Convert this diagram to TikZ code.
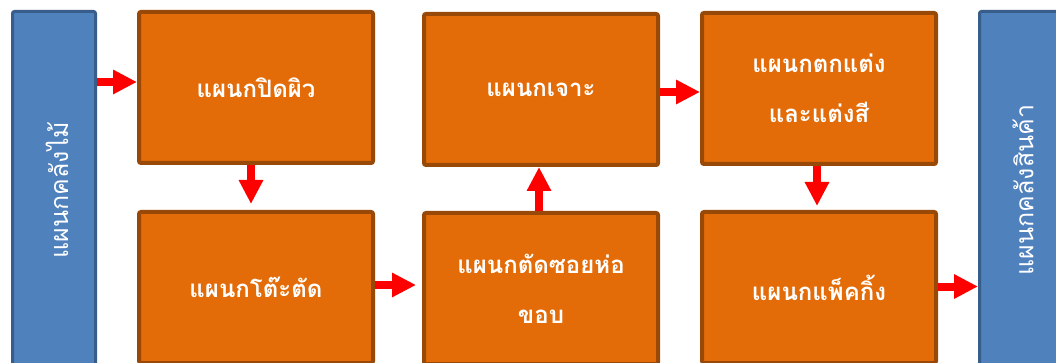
\documentclass[tikz,border=0pt]{standalone}
\usepackage{fontspec}
\newfontfamily\thaifont[Script=Thai]{Loma}
\usetikzlibrary{arrows.meta,calc}
\definecolor{orfill}{HTML}{E36C09}
\definecolor{orline}{HTML}{984807}
\definecolor{blfill}{HTML}{4F81BD}
\definecolor{blline}{HTML}{385D8A}
\begin{document}
\begin{tikzpicture}[x=1pt,y=-1pt,
 dept/.style={draw=orline, fill=orfill, line width=4pt, rounded corners=2pt, minimum width=234pt, minimum height=151pt, inner sep=0pt, text=white, font=\thaifont\bfseries\fontsize{24}{50}\selectfont, align=center},
 store/.style={draw=blline, fill=blfill, line width=3pt, rounded corners=2pt, minimum width=83pt, minimum height=400pt, inner sep=0pt},
 lbl/.style={text=white, font=\thaifont\fontsize{25}{28}\selectfont, rotate=90, inner sep=0pt},
 arr/.style={draw=red, line width=8pt, -{Triangle[width=23pt,length=24pt]}}]
\useasboundingbox (0,0) rectangle (1056,363);
\fill[white] (0,0) rectangle (1056,363);
\clip (0,0) rectangle (1056,363);
\node[store] (wood) at (54,211.5) {};
\node[lbl] (woodtxt) at (57,190) {แผนกคลังไม้};
\node[store] (store) at (1021,211.5) {};
\node[lbl] (storetxt) at (1023,190) {แผนกคลังสินค้า};
\node[dept] (pid) at (256,87.5) {แผนกปิดผิว};
\node[dept] (tote) at (256,287.5) {แผนกโต๊ะตัด};
\node[dept] (jao) at (541,89.5) {แผนกเจาะ};
\node[dept] (soi) at (541,288.5) {แผนกตัดซอยห่อ\\ขอบ};
\node[dept] (tok) at (819,88.5) {แผนกตกแต่ง\\และแต่งสี};
\node[dept] (pack) at (819,287.5) {แผนกแพ็คกิ้ง};
\draw[arr] ($(wood.east |- pid.west)+(0,-5.5)$) -- ($(pid.west)+(0,-5.5)$);
\draw[arr, shorten >=6pt] ($(pid.south)+(-5,0)$) -- ($(tote.north)+(-5,0)$);
\draw[arr, shorten >=6pt] ($(tote.east)+(0,-2.5)$) -- ($(soi.west |- tote.east)+(0,-2.5)$);
\draw[arr] ($(soi.north)+(-2,0)$) -- ($(jao.south)+(-2,0)$);
\draw[arr] ($(jao.east)+(0,2.5)$) -- ($(tok.west |- jao.east)+(0,2.5)$);
\draw[arr, shorten >=4pt] ($(tok.south)+(-2,0)$) -- ($(pack.north)+(-2,0)$);
\draw[arr] ($(pack.east)+(0,-1)$) -- ($(store.west |- pack.east)+(0,-1)$);
\end{tikzpicture}
\end{document}
